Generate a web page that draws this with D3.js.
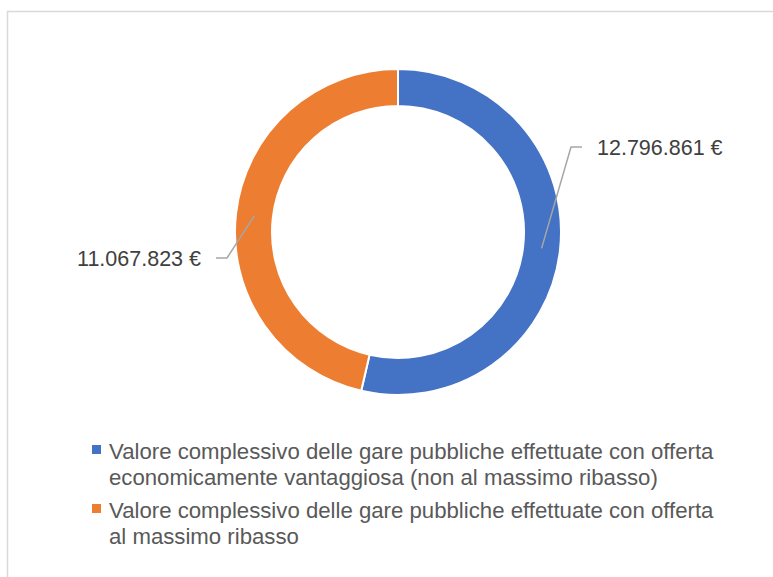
<!DOCTYPE html>
<html>
<head>
<meta charset="utf-8">
<script src="https://cdn.jsdelivr.net/npm/d3@7"></script>
<style>
  html, body { margin: 0; padding: 0; background: #fff; }
  svg { display: block; }
  text { font-family: "Liberation Sans", Arial, sans-serif; }
</style>
</head>
<body>
<svg id="chart" width="773" height="577"></svg>
<script>
// ---- data ----
const categories = [
  "Valore complessivo delle gare pubbliche effettuate con offerta economicamente vantaggiosa (non al massimo ribasso)",
  "Valore complessivo delle gare pubbliche effettuate con offerta al massimo ribasso"
];
const values = [12796861, 11067823];
const valueLabels = ["12.796.861 €", "11.067.823 €"];
const legendLines = [
  ["Valore complessivo delle gare pubbliche effettuate con offerta",
   "economicamente vantaggiosa (non al massimo ribasso)"],
  ["Valore complessivo delle gare pubbliche effettuate con offerta",
   "al massimo ribasso"]
];
const colors = ["#4472C4", "#ED7D31"];

// ---- layout ----
const W = 773, H = 577;
const cx = 398, cy = 232, rOuter = 163, rInner = 126;
const svg = d3.select("#chart");

// chart area border
svg.append("rect")
  .attr("x", 7.5).attr("y", 11.5)
  .attr("width", 800).attr("height", 600)
  .attr("fill", "none").attr("stroke", "#d9d9d9").attr("stroke-width", 1.5);

const g = svg.append("g").attr("transform", `translate(${cx},${cy})`);

const pie = d3.pie().sort(null).value(d => d);
const arcs = pie(values);
const arc = d3.arc().innerRadius(rInner).outerRadius(rOuter);

g.selectAll("path.slice").data(arcs).join("path")
  .attr("class", "slice")
  .attr("d", arc)
  .attr("fill", (d, i) => colors[i])
  .attr("stroke", "#fff").attr("stroke-width", 2);

// leader lines & labels
const midR = (rInner + rOuter) / 2;
const elbows = [{x: 173, y: -85, dir: 1}, {x: -171, y: 26, dir: -1}];
arcs.forEach((d, i) => {
  const a = (d.startAngle + d.endAngle) / 2;
  const p0 = [Math.sin(a) * midR, -Math.cos(a) * midR];
  const e = elbows[i];
  const p2 = [e.x + e.dir * 11, e.y];
  g.append("polyline")
    .attr("points", [p0, [e.x, e.y], p2].map(p => p.join(",")).join(" "))
    .attr("fill", "none").attr("stroke", "#a6a6a6").attr("stroke-width", 1.5);
  g.append("text")
    .attr("x", p2[0] + e.dir * 15)
    .attr("y", e.y + 7.5)
    .attr("text-anchor", e.dir > 0 ? "start" : "end")
    .attr("font-size", 21.5)
    .attr("fill", "#404040")
    .text(valueLabels[i]);
});

// legend
const legendX = 109, markerX = 92;
const entryTops = [459, 518];
const lineH = 26;
legendLines.forEach((lines, i) => {
  const base = entryTops[i];
  svg.append("rect")
    .attr("x", markerX).attr("y", base - 14)
    .attr("width", 9).attr("height", 9)
    .attr("fill", colors[i]);
  lines.forEach((ln, j) => {
    svg.append("text")
      .attr("x", legendX).attr("y", base + j * lineH)
      .attr("font-size", 22.2)
      .attr("fill", "#595959")
      .text(ln);
  });
});
</script>
</body>
</html>
